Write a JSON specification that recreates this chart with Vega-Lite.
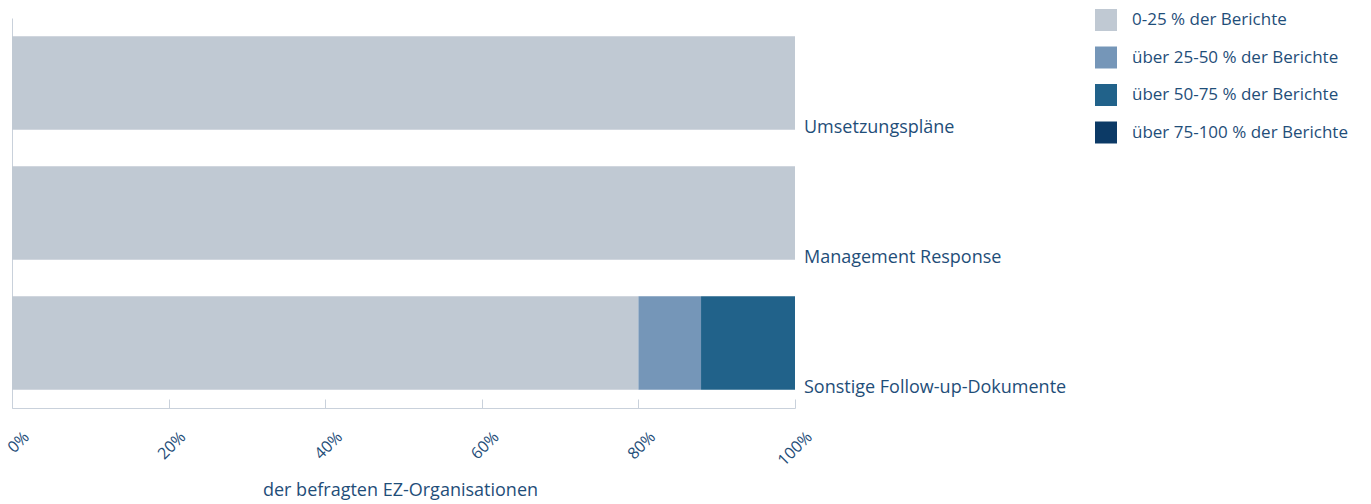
{
  "$schema": "https://vega.github.io/schema/vega-lite/v6.json",
  "width": 783,
  "height": 390,
  "autosize": {"type": "none"},
  "padding": {"left": 12, "top": 18, "right": 576, "bottom": 96},
  "config": {
    "view": {"stroke": null},
    "font": "Open Sans",
    "text": {"font": "Open Sans"}
  },
  "data": {
    "values": [
      {"kategorie": "Umsetzungspläne", "anteil": "0-25 % der Berichte", "ordnung": 1, "wert": 100},
      {"kategorie": "Management Response", "anteil": "0-25 % der Berichte", "ordnung": 1, "wert": 100},
      {"kategorie": "Sonstige Follow-up-Dokumente", "anteil": "0-25 % der Berichte", "ordnung": 1, "wert": 80},
      {"kategorie": "Sonstige Follow-up-Dokumente", "anteil": "über 25-50 % der Berichte", "ordnung": 2, "wert": 8},
      {"kategorie": "Sonstige Follow-up-Dokumente", "anteil": "über 50-75 % der Berichte", "ordnung": 3, "wert": 12}
    ]
  },
  "layer": [
    {
      "mark": {"type": "bar"},
      "encoding": {
        "y": {
          "field": "kategorie",
          "type": "nominal",
          "sort": ["Umsetzungspläne", "Management Response", "Sonstige Follow-up-Dokumente"],
          "scale": {"paddingInner": 0.28, "paddingOuter": 0.14},
          "axis": {"labels": false, "ticks": false, "title": null, "domainColor": "#c9d1db", "domainWidth": 1}
        },
        "x": {
          "field": "wert",
          "type": "quantitative",
          "stack": "zero",
          "scale": {"domain": [0, 100], "nice": false},
          "axis": {
            "values": [0, 20, 40, 60, 80, 100],
            "labelExpr": "datum.value + '%'",
            "labelAngle": -45,
            "labelAlign": "right",
            "labelBaseline": "middle",
            "labelOffset": 14,
            "labelPadding": 35,
            "labelFontSize": 16,
            "labelColor": "#1f4e79",
            "labelFlush": false,
            "labelOverlap": false,
            "tickSize": -9,
            "tickColor": "#c9d1db",
            "domainColor": "#c9d1db",
            "grid": false,
            "title": "der befragten EZ-Organisationen",
            "titleFontSize": 18,
            "titleFontWeight": "normal",
            "titleColor": "#1f4e79",
            "titlePadding": 13,
            "titleX": 388
          }
        },
        "order": {"field": "ordnung", "type": "quantitative"},
        "color": {
          "field": "anteil",
          "type": "nominal",
          "scale": {
            "domain": ["0-25 % der Berichte", "über 25-50 % der Berichte", "über 50-75 % der Berichte", "über 75-100 % der Berichte"],
            "range": ["#c0c9d3", "#7596b8", "#21628a", "#0c3a66"]
          },
          "legend": {
            "orient": "none",
            "legendX": 1083,
            "legendY": -9,
            "title": null,
            "symbolType": "square",
            "symbolSize": 484,
            "symbolStrokeWidth": 0,
            "symbolOpacity": 1,
            "labelFontSize": 17,
            "labelLimit": 0,
            "labelColor": "#1f4e79",
            "labelOffset": 15,
            "rowPadding": 15.5
          }
        }
      }
    },
    {
      "data": {
        "values": [
          {"kategorie": "Umsetzungspläne"},
          {"kategorie": "Management Response"},
          {"kategorie": "Sonstige Follow-up-Dokumente"}
        ]
      },
      "mark": {"type": "text", "align": "left", "baseline": "alphabetic", "dx": 9, "dy": 3, "fontSize": 18, "color": "#1f4e79"},
      "encoding": {
        "y": {"field": "kategorie", "type": "nominal", "sort": ["Umsetzungspläne", "Management Response", "Sonstige Follow-up-Dokumente"], "bandPosition": 1},
        "x": {"datum": 100},
        "text": {"field": "kategorie"}
      }
    }
  ]
}
